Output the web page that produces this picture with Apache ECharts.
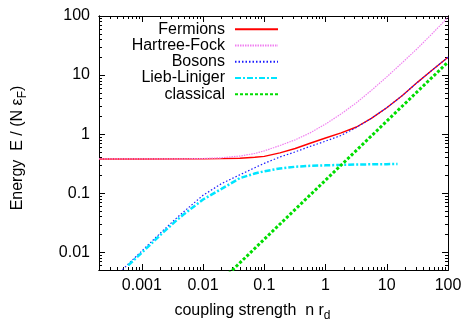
<!DOCTYPE html>
<html>
<head>
<meta charset="utf-8">
<script src="https://cdn.jsdelivr.net/npm/echarts@6/dist/echarts.min.js"></script>
<style>
  html, body { margin: 0; padding: 0; background: #fff; }
  #main { width: 466px; height: 327px; }
</style>
</head>
<body>
<div id="main"></div>
<script>
// axis ranges and tick labels (log axes)
const xRange = [0.0002, 100];
const yRange = [0.005, 100];
const xTickValues = [0.001, 0.01, 0.1, 1, 10, 100];
const xTickLabels = ['0.001', '0.01', '0.1', '1', '10', '100'];
const yTickValues = [0.01, 0.1, 1, 10, 100];
const yTickLabels = ['0.01', '0.1', '1', '10', '100'];

// curves
const fermionsX = [0.0002, 0.001, 0.01, 0.02, 0.04, 0.07, 0.1, 0.18, 0.32, 0.56, 1, 1.8, 3.2, 5.6, 10, 18, 32, 56, 100];
const fermionsY = [0.38, 0.38, 0.381, 0.384, 0.39, 0.405, 0.42, 0.48, 0.57, 0.70, 0.86, 1.05, 1.32, 1.85, 2.8, 4.5, 7.6, 12.3, 20];

const hartreeX = [0.0002, 0.001, 0.005, 0.01, 0.02, 0.04, 0.07, 0.1, 0.18, 0.32, 0.56, 1, 1.8, 3.2, 5.6, 10, 18, 32, 56, 100];
const hartreeY = [0.38, 0.38, 0.382, 0.386, 0.398, 0.425, 0.47, 0.52, 0.64, 0.8, 1.05, 1.48, 2.2, 3.4, 5.5, 9.3, 16.3, 28.5, 51, 95];

const bosonsX = [0.0004, 0.001, 0.002, 0.0035, 0.005, 0.01, 0.02, 0.04, 0.07, 0.1, 0.18, 0.32, 0.56, 1, 1.8, 3.2, 5.6, 10, 18, 32, 56, 100];
const bosonsY = [0.0042, 0.0105, 0.021, 0.036, 0.05, 0.092, 0.145, 0.205, 0.27, 0.32, 0.41, 0.5, 0.62, 0.76, 0.95, 1.3, 1.85, 2.8, 4.5, 7.6, 12.3, 20];

const liebX = [0.0006, 0.001, 0.002, 0.0035, 0.005, 0.01, 0.02, 0.04, 0.07, 0.1, 0.18, 0.32, 0.56, 1, 1.8, 3.2, 5.6, 10, 15];
const liebY = [0.006, 0.0098, 0.0195, 0.033, 0.045, 0.078, 0.118, 0.18, 0.215, 0.235, 0.262, 0.28, 0.29, 0.296, 0.301, 0.305, 0.308, 0.31, 0.311];

const classicalX = [0.02, 0.1, 1, 10, 100];
const classicalY = [0.0033, 0.0166, 0.166, 1.66, 16.6];

const lg = Math.log10;
const pts = (xs, ys) => xs.map((x, i) => [lg(x), lg(ys[i])]);

function minorTicks(range) {
  const out = [];
  for (let d = Math.floor(lg(range[0])); d <= Math.ceil(lg(range[1])); d++) {
    for (let k = 2; k <= 9; k++) {
      const v = k * Math.pow(10, d);
      if (v > range[0] && v < range[1]) out.push(lg(v));
    }
  }
  return out;
}

function labelFor(values, labels) {
  return v => {
    const i = values.findIndex(t => Math.abs(lg(t) - v) < 1e-6);
    return i >= 0 ? labels[i] : '';
  };
}

const font = '"Liberation Sans", Arial, sans-serif';
const xMajor = xTickValues.map(lg);
const yMajor = yTickValues.map(lg);

function axisBase(range, position) {
  return {
    type: 'value',
    position: position,
    min: lg(range[0]),
    max: lg(range[1]),
    splitLine: { show: false },
    axisLine: { show: true, onZero: false, lineStyle: { color: '#000', width: 1 } },
    axisLabel: { show: false },
  };
}

function tickAxis(range, position, values, len) {
  const a = axisBase(range, position);
  a.axisTick = { show: true, inside: true, length: len, customValues: values, lineStyle: { color: '#000', width: 1 } };
  return a;
}

const xMain = tickAxis(xRange, 'bottom', xMajor, 6);
xMain.axisLabel = {
  show: true, customValues: xMajor, formatter: labelFor(xTickValues, xTickLabels),
  color: '#000', fontSize: 16, fontFamily: font, margin: 8,
};
xMain.name = 'coupling strength  n r{sub|d}';
xMain.nameLocation = 'middle';
xMain.nameGap = 30;
xMain.nameTextStyle = {
  color: '#000', fontSize: 16, fontFamily: font, padding: [0, 42, 0, 0],
  rich: { sub: { fontSize: 12, fontFamily: font, color: '#000', padding: [10, 0, 0, 0] } },
};

const yMain = tickAxis(yRange, 'left', yMajor, 6);
yMain.axisLabel = {
  show: true, customValues: yMajor, formatter: labelFor(yTickValues, yTickLabels),
  color: '#000', fontSize: 16, fontFamily: font, margin: 9,
};
yMain.name = 'Energy  E / (N ε{sub|F})';
yMain.nameLocation = 'middle';
yMain.nameGap = 70;
yMain.nameTextStyle = {
  color: '#000', fontSize: 16, fontFamily: font, padding: [0, 10, 0, 0],
  rich: { sub: { fontSize: 12, fontFamily: font, color: '#000', padding: [10, 0, 0, 0] } },
};

const xMinor = minorTicks(xRange);
const yMinor = minorTicks(yRange);

function series(name, xs, ys, color, width, dash) {
  return {
    name: name,
    type: 'line',
    data: pts(xs, ys),
    xAxisIndex: 0,
    yAxisIndex: 0,
    symbol: 'none',
    smooth: false,
    clip: true,
    color: color,
    lineStyle: { color: color, width: width, type: dash },
  };
}

const chart = echarts.init(document.getElementById('main'), null, { renderer: 'canvas' });
chart.setOption({
  animation: false,
  backgroundColor: '#fff',
  grid: { left: 99, right: 18, top: 16, bottom: 50, containLabel: false },
  xAxis: [
    xMain,
    tickAxis(xRange, 'bottom', xMinor, 3),
    tickAxis(xRange, 'top', xMajor, 6),
    tickAxis(xRange, 'top', xMinor, 3),
  ],
  yAxis: [
    yMain,
    tickAxis(yRange, 'left', yMinor, 3),
    tickAxis(yRange, 'right', yMajor, 6),
    tickAxis(yRange, 'right', yMinor, 3),
  ],
  legend: {
    orient: 'vertical',
    right: 466 - 279,
    top: 21,
    align: 'right',
    itemWidth: 43,
    itemHeight: 10,
    itemGap: 0,
    padding: 0,
    selectedMode: false,
    itemStyle: { opacity: 0 },
    textStyle: {
      color: '#000', fontSize: 16, fontFamily: font, lineHeight: 16.3,
      width: 116, align: 'right', padding: [0, 5, 0, 0],
    },
  },
  series: [
    series('Fermions', fermionsX, fermionsY, '#ff0000', 1.4, 'solid'),
    series('Hartree-Fock', hartreeX, hartreeY, '#f080f0', 1.2, [1.5, 1]),
    series('Bosons', bosonsX, bosonsY, '#1a1aff', 1.2, [1.5, 2]),
    series('Lieb-Liniger', liebX, liebY, '#00e5ff', 2.5, [6, 2, 2, 2]),
    series('classical', classicalX, classicalY, '#00dd00', 3, [3, 2]),
  ],
});
</script>
</body>
</html>
